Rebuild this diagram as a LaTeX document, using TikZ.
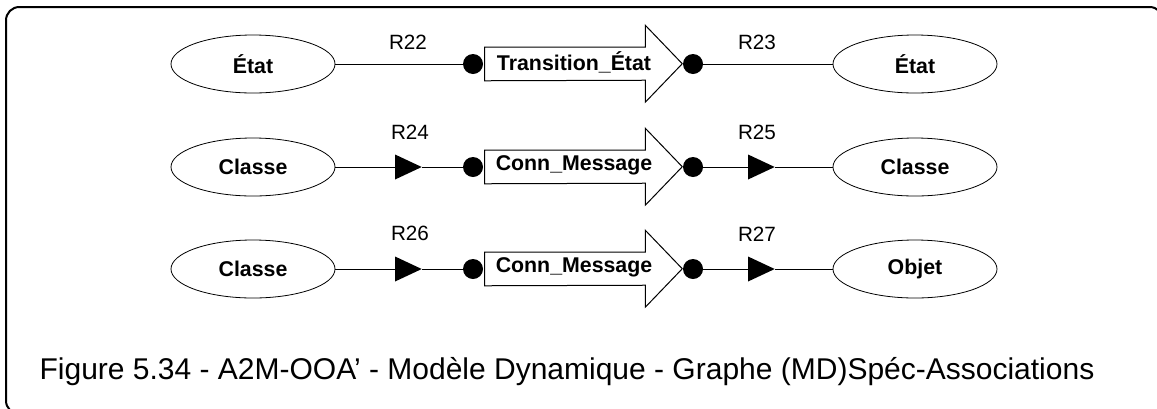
\documentclass[tikz,border=0pt]{standalone}
\usepackage{fontspec}
\setmainfont{Liberation Sans}
\usetikzlibrary{shapes.geometric}

\begin{document}
\begin{tikzpicture}[
  x=0.75pt, y=-0.75pt,
  ent/.style={ellipse, draw, line width=0.6pt, minimum width=123pt, minimum height=43.5pt, inner sep=0pt, font=\fontsize{16}{19}\selectfont\bfseries},
  dot/.style={circle, fill=black, inner sep=0pt, minimum size=15pt},
  tri/.style={isosceles triangle, isosceles triangle stretches, fill=black, inner sep=0pt, minimum width=18.75pt, minimum height=20pt},
  msg/.style={minimum width=120pt, minimum height=24.75pt, inner sep=0pt},
  msgtext/.style={inner sep=0pt, font=\fontsize{16}{19}\selectfont\bfseries},
  rel/.style={font=\fontsize{15.5}{18}\selectfont},
  conn/.style={line width=0.75pt},
  outline/.style={line width=0.75pt, fill=white}
]
\useasboundingbox (0,0) rectangle (1157,408);

% Frame
\draw[line width=1.5pt, rounded corners=10pt] (6,7) rectangle (1163,414);

% Row 1
\node[ent] (etatA) at (253,64) {État};
\node[ent] (etatB) at (915,64) {État};
\node[msg] (trans) at (565,64) {};
\draw[outline] (trans.north west) -- (trans.north east) -- ++(0,-22) -- ++(37,38.5) -- ++(-37,38.5) -- ++(0,-22) -- (trans.south west) -- cycle;
\node[msgtext] (transtxt) at (574,62) {Transition\_État};
\node[dot] (dA) at (473,64) {};
\node[dot] (dB) at (693,64) {};
\node[rel] (r22) at (408,42) {R22};
\node[rel] (r23) at (757,42) {R23};
\draw[conn] (etatA) -- (dA);
\draw[conn] (dB) -- (etatB);

% Row 2
\node[ent] (classeA) at (253,167) {Classe};
\node[ent] (classeB) at (915,167) {Classe};
\node[msg] (connA) at (565,167) {};
\draw[outline] (connA.north west) -- (connA.north east) -- ++(0,-22) -- ++(37,38.5) -- ++(-37,38.5) -- ++(0,-22) -- (connA.south west) -- cycle;
\node[msgtext] (connAtxt) at (574,165) {Conn\_Message};
\node[dot] (dC) at (473,167) {};
\node[dot] (dD) at (693,167) {};
\node[tri] (tA) at (403,167) {};
\node[tri] (tB) at (756,167) {};
\node[rel] (r24) at (410,132) {R24};
\node[rel] (r25) at (757,132) {R25};
\draw[conn] (classeA) -- (tA) -- (dC);
\draw[conn] (dD) -- (tB) -- (classeB);

% Row 3
\node[ent] (classeC) at (253,269) {Classe};
\node[ent] (objet) at (915,269) {Objet};
\node[msg] (connB) at (565,269) {};
\draw[outline] (connB.north west) -- (connB.north east) -- ++(0,-22) -- ++(37,38.5) -- ++(-37,38.5) -- ++(0,-22) -- (connB.south west) -- cycle;
\node[msgtext] (connBtxt) at (574,267) {Conn\_Message};
\node[dot] (dE) at (473,269) {};
\node[dot] (dF) at (693,269) {};
\node[tri] (tC) at (403,269) {};
\node[tri] (tD) at (756,269) {};
\node[rel] (r26) at (410,233) {R26};
\node[rel] (r27) at (757,234) {R27};
\draw[conn] (classeC) -- (tC) -- (dE);
\draw[conn] (dF) -- (tD) -- (objet);

% Caption
\node[font=\fontsize{22.5}{26}\selectfont] (caption) at (567,372) {Figure 5.34 - A2M-OOA' - Modèle Dynamique - Graphe (MD)Spéc-Associations};

\end{tikzpicture}
\end{document}
